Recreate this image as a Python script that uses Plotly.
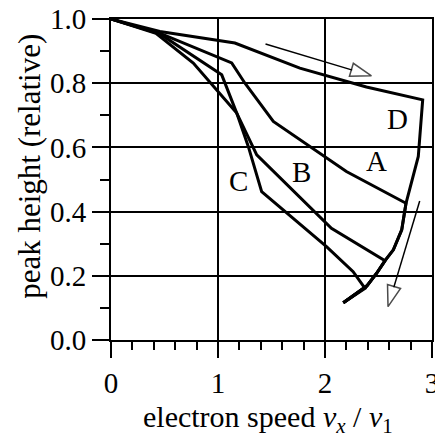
import plotly.graph_objects as go

# curve data (electron speed v_x/v_1, relative peak height)
A_x = [0, 0.46, 1.128, 1.252, 1.517, 2.2, 2.757, 2.717, 2.639, 2.561, 2.483, 2.39, 2.171]
A_y = [1.0, 0.955, 0.863, 0.80, 0.681, 0.525, 0.426, 0.343, 0.281, 0.247, 0.208, 0.168, 0.116]

B_x = [0, 0.45, 1.035, 1.175, 1.362, 2.06, 2.561, 2.483, 2.39, 2.171]
B_y = [1.0, 0.955, 0.826, 0.707, 0.577, 0.348, 0.247, 0.208, 0.168, 0.116]

C_x = [0, 0.42, 0.769, 0.972, 1.175, 1.283, 1.408, 2.014, 2.263, 2.374, 2.171]
C_y = [1.0, 0.955, 0.863, 0.785, 0.707, 0.603, 0.462, 0.291, 0.213, 0.161, 0.116]

D_x = [0, 0.457, 1.158, 1.765, 2.387, 2.913, 2.872, 2.757, 2.717, 2.639, 2.561, 2.483, 2.39, 2.171]
D_y = [1.0, 0.961, 0.925, 0.847, 0.788, 0.748, 0.572, 0.426, 0.343, 0.281, 0.247, 0.208, 0.168, 0.116]

# curve labels
label_text = ["A", "B", "C", "D"]
label_x = [2.477, 1.782, 1.19, 2.68]
label_y = [0.559, 0.523, 0.494, 0.69]

# direction arrows (start -> tip)
arrow1_x = [1.444, 2.434]
arrow1_y = [0.922, 0.823]
arrow2_x = [2.885, 2.589]
arrow2_y = [0.433, 0.104]

x_ticks = [0, 1, 2, 3]
y_ticks = [0.0, 0.2, 0.4, 0.6, 0.8, 1.0]
y_ticktext = ["0.0", "0.2", "0.4", "0.6", "0.8", "1.0"]

FONT = "Liberation Serif, Times New Roman, serif"
FS = 29

fig = go.Figure()
for xs, ys in [(A_x, A_y), (B_x, B_y), (C_x, C_y), (D_x, D_y)]:
    fig.add_trace(go.Scatter(x=xs, y=ys, mode="lines",
                             line=dict(color="black", width=3),
                             showlegend=False, hoverinfo="skip"))

for ax_, ay_ in [(arrow1_x, arrow1_y), (arrow2_x, arrow2_y)]:
    fig.add_trace(go.Scatter(
        x=ax_, y=ay_, mode="lines+markers",
        line=dict(color="black", width=1.5),
        marker=dict(symbol=["circle", "arrow"], size=[0, 22], color="white",
                    angleref="previous", line=dict(color="black", width=1.5)),
        showlegend=False, hoverinfo="skip", cliponaxis=False))

for t, x, y in zip(label_text, label_x, label_y):
    fig.add_annotation(x=x, y=y, text=t, showarrow=False,
                       font=dict(family=FONT, size=FS, color="black"))

fig.add_annotation(xref="paper", yref="paper", x=-0.256, y=0.542,
                   text="peak height (relative)", textangle=-90, showarrow=False,
                   xanchor="center", yanchor="middle",
                   font=dict(family=FONT, size=31, color="black"))

fig.add_annotation(xref="paper", yref="paper", x=0.49, y=-0.247,
                   text="electron speed <i>v</i><sub><i>x</i></sub> / <i>v</i><sub>1</sub>",
                   showarrow=False, xanchor="center", yanchor="middle",
                   font=dict(family=FONT, size=30, color="black"))

fig.update_layout(
    width=435, height=441,
    margin=dict(l=111, r=3, t=19, b=101),
    paper_bgcolor="white", plot_bgcolor="white",
    font=dict(family=FONT, size=FS, color="black"),
    xaxis=dict(range=[0, 3], tickvals=x_ticks, ticks="outside", ticklen=16,
               tickwidth=2, tickcolor="black", showgrid=True, gridcolor="black",
               gridwidth=2, showline=True, linecolor="black", linewidth=2,
               mirror=True, zeroline=False, automargin=False,
               ticklabeloverflow="allow",
               minor=dict(dtick=0.2, ticks="outside", ticklen=8, tickwidth=2,
                          tickcolor="black", showgrid=False),
               tickfont=dict(family=FONT, size=FS, color="black")),
    yaxis=dict(range=[0, 1], tickvals=y_ticks, ticktext=y_ticktext, ticks="outside",
               ticklen=17, tickwidth=2, tickcolor="black", showgrid=True,
               gridcolor="black", gridwidth=2, showline=True, linecolor="black",
               linewidth=2, mirror=True, zeroline=False, automargin=False,
               ticklabeloverflow="allow",
               minor=dict(dtick=0.1, ticks="outside", ticklen=9, tickwidth=2,
                          tickcolor="black", showgrid=False),
               tickfont=dict(family=FONT, size=FS, color="black")),
)

fig.write_html("out.html",
               config={"displayModeBar": False, "staticPlot": True},
               post_script="document.body.style.margin='0';document.body.style.overflow='hidden';")
